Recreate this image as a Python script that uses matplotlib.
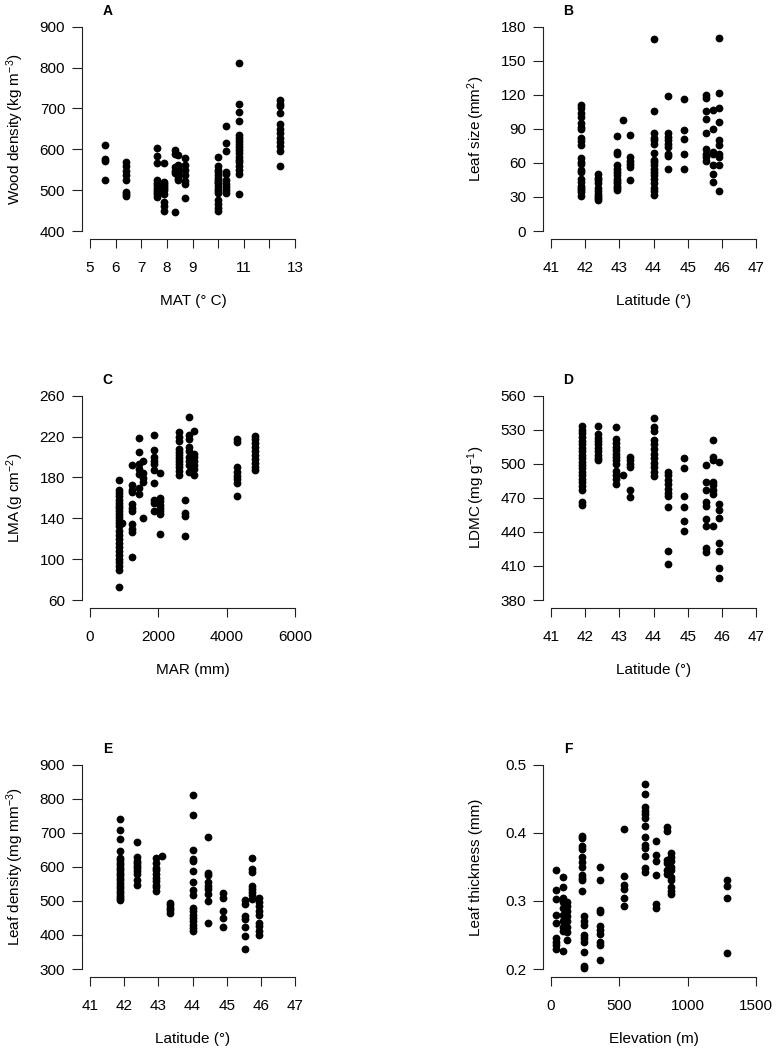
import numpy as np
import matplotlib
matplotlib.use("Agg")
import matplotlib.pyplot as plt

plt.rcParams['font.family'] = ['Liberation Sans', 'DejaVu Sans']
plt.rcParams['mathtext.fontset'] = 'custom'
plt.rcParams['mathtext.rm'] = 'Liberation Sans'
plt.rcParams['mathtext.it'] = 'Liberation Sans:italic'
plt.rcParams['mathtext.bf'] = 'Liberation Sans:bold'

# ---------------- data ----------------
a_x = [5.6, 6.4, 7.6, 7.9, 8.3, 8.45, 8.7, 10.0, 10.3, 10.8, 12.4]
a_y = [
    [611, 577, 571, 525],
    [570, 560, 548, 538, 525, 496, 490, 486],
    [602, 584, 567, 526, 518, 512, 506, 500, 496, 490, 484],
    [567, 521, 515, 510, 505, 500, 490, 472, 461, 449],
    [598, 588, 556, 548, 541, 447],
    [586, 562, 553, 546, 539, 530, 526],
    [578, 562, 550, 537, 523, 514, 482],
    [582, 558, 550, 545, 537, 530, 526, 520, 517, 510, 504, 498, 492, 476, 465, 456, 448],
    [658, 615, 596, 545, 540, 525, 515, 508, 500, 492],
    [812, 710, 692, 670, 636, 628, 620, 612, 605, 598, 592, 582, 575, 568, 560, 549, 540, 491],
    [720, 712, 706, 690, 662, 650, 640, 628, 618, 608, 596, 560],
]

b_x = [41.88, 42.37, 42.93, 43.1, 43.3, 44.0, 44.42, 44.88, 45.53, 45.74, 45.92]
b_y = [
    [111, 108, 104, 100, 95, 92, 90, 82, 79, 76, 64, 61, 59, 54, 52, 46, 43, 40, 38, 36, 34, 31],
    [50, 47, 45, 42, 38, 35, 33, 31, 29, 27],
    [84, 70, 68, 58, 55, 52, 49, 46, 44, 42, 40, 38, 36],
    [98],
    [85, 65, 62, 59, 56, 45],
    [169, 106, 86, 82, 80, 77, 69, 63, 61, 58, 55, 52, 49, 46, 42, 38, 35, 32],
    [119, 86, 83, 80, 77, 74, 68, 66, 55],
    [116, 89, 81, 68, 55],
    [120, 117, 106, 99, 86, 72, 68, 65, 62],
    [107, 90, 70, 68, 58, 50, 43],
    [170, 122, 108, 96, 80, 76, 68, 65, 58, 35],
]

c_x = [860, 940, 1230, 1420, 1560, 1870, 2060, 2600, 2780, 2890, 3040, 4310, 4830]
c_y = [
    [177, 168, 165, 162, 158, 155, 152, 150, 147, 144, 141, 138, 135, 132, 128, 124,
     120, 116, 112, 108, 104, 100, 97, 93, 89, 73],
    [135],
    [192, 173, 168, 166, 154, 150, 147, 134, 130, 127, 102],
    [219, 205, 193, 188, 183, 170, 164],
    [196, 184, 179, 176, 140],
    [222, 207, 200, 196, 193, 187, 175, 158, 155, 147],
    [184, 160, 157, 153, 150, 147, 144, 125],
    [224, 220, 216, 208, 205, 202, 199, 196, 193, 190, 186, 182],
    [158, 145, 142, 123],
    [239, 222, 218, 210, 206, 200, 196, 192, 185],
    [225, 203, 200, 196, 192, 188, 182],
    [218, 215, 190, 185, 181, 178, 175, 162],
    [221, 218, 214, 210, 206, 202, 198, 194, 190, 187],
]

d_x = [41.9, 42.38, 42.9, 43.1, 43.31, 44.02, 44.43, 44.88, 45.54, 45.73, 45.93]
d_y = [
    [533, 530, 527, 524, 520, 517, 514, 511, 508, 505, 502, 499, 496, 493, 490, 487,
     484, 480, 477, 466, 464],
    [533, 526, 523, 520, 517, 514, 511, 508, 505, 503],
    [532, 522, 518, 515, 512, 509, 506, 503, 500, 494, 490, 487, 482],
    [490],
    [506, 503, 500, 497, 477, 471],
    [540, 532, 529, 521, 517, 513, 509, 505, 501, 497, 493, 489],
    [493, 490, 486, 482, 478, 474, 472, 462, 423, 412],
    [505, 496, 472, 462, 450, 441],
    [499, 484, 477, 466, 463, 451, 445, 426, 422],
    [521, 506, 503, 484, 481, 477, 473, 445],
    [502, 465, 459, 452, 430, 423, 408, 399],
]

e_x = [41.89, 42.38, 42.92, 43.11, 43.33, 44.02, 44.44, 44.88, 45.55, 45.73, 45.94]
e_y = [
    [740, 708, 682, 647, 625, 620, 612, 605, 598, 590, 582, 575, 568, 560, 552, 545,
     538, 530, 522, 515, 508, 503],
    [672, 628, 618, 610, 603, 596, 588, 580, 562, 548],
    [625, 610, 598, 590, 580, 567, 557, 548, 540, 528],
    [633],
    [495, 487, 480, 472, 465],
    [811, 752, 650, 622, 618, 588, 556, 531, 517, 480, 470, 460, 450, 440, 430, 420, 413],
    [687, 582, 575, 555, 545, 535, 520, 500, 436],
    [524, 508, 470, 450, 424],
    [503, 490, 455, 447, 423, 398, 360],
    [625, 595, 585, 545, 535, 525, 518, 505],
    [510, 498, 485, 470, 458, 435, 425, 413, 400],
]

f_x = [37, 86, 115, 225, 240, 359, 535, 691, 765, 848, 880, 1288]
f_y = [
    [0.345, 0.316, 0.303, 0.28, 0.268, 0.246, 0.24, 0.235, 0.23],
    [0.335, 0.32, 0.305, 0.298, 0.29, 0.28, 0.27, 0.262, 0.256, 0.226],
    [0.298, 0.292, 0.285, 0.278, 0.27, 0.262, 0.255, 0.243],
    [0.396, 0.393, 0.38, 0.376, 0.365, 0.357, 0.35, 0.338, 0.334, 0.33, 0.315],
    [0.278, 0.27, 0.265, 0.25, 0.245, 0.24, 0.225, 0.205, 0.202],
    [0.35, 0.331, 0.286, 0.283, 0.263, 0.258, 0.252, 0.24, 0.236, 0.213],
    [0.406, 0.337, 0.324, 0.318, 0.305, 0.292],
    [0.472, 0.457, 0.438, 0.432, 0.427, 0.422, 0.41, 0.394, 0.382, 0.378, 0.366, 0.348, 0.343],
    [0.388, 0.368, 0.358, 0.338, 0.295, 0.29],
    [0.408, 0.402, 0.36, 0.355, 0.345, 0.34],
    [0.37, 0.364, 0.358, 0.35, 0.345, 0.335, 0.33, 0.32, 0.315, 0.31],
    [0.331, 0.322, 0.305, 0.224],
]

a_xticks = [5, 6, 7, 8, 9, 10, 11, 12, 13]
a_xticklabels = ['5', '6', '7', '8', '9', '', '11', '', '13']
a_yticks = [400, 500, 600, 700, 800, 900]
lat_ticks = [41, 42, 43, 44, 45, 46, 47]
b_yticks = [0, 30, 60, 90, 120, 150, 180]
c_xticks = [0, 2000, 4000, 6000]
c_yticks = [60, 100, 140, 180, 220, 260]
d_yticks = [380, 410, 440, 470, 500, 530, 560]
e_yticks = [300, 400, 500, 600, 700, 800, 900]
f_xticks = [0, 500, 1000, 1500]
f_yticks = [0.2, 0.3, 0.4, 0.5]
f_yticklabels = ['0.2', '0.3', '0.4', '0.5']

# ---------------- layout ----------------
W, H = 776, 1052
fig = plt.figure(figsize=(W / 100, H / 100), dpi=100)

col_left = [81.8, 542.8]
col_w = 221.4
row_top = [18.5, 387.5, 756.5]
row_h = 220.7

FS = 11


def make_ax(col, row):
    l = col_left[col] / W
    b = 1 - (row_top[row] + row_h) / H
    return fig.add_axes([l, b, col_w / W, row_h / H])


def expand(xs, ys):
    xx = np.concatenate([np.full(len(v), x, dtype=float) for x, v in zip(xs, ys)])
    yy = np.concatenate([np.asarray(v, dtype=float) for v in ys])
    return xx, yy


def panel(col, row, xs, ys, xticks, yticks, letter, xlabel, ylabel,
          xticklabels=None, yticklabels=None):
    ax = make_ax(col, row)
    xx, yy = expand(xs, ys)
    ax.plot(xx, yy, 'o', color='black', markersize=5.6, markeredgewidth=0)
    x0, x1 = xticks[0], xticks[-1]
    y0, y1 = yticks[0], yticks[-1]
    dx = (x1 - x0) * 0.04
    dy = (y1 - y0) * 0.04
    ax.set_xlim(x0 - dx, x1 + dx)
    ax.set_ylim(y0 - dy, y1 + dy)
    for s in ['top', 'right']:
        ax.spines[s].set_visible(False)
    ax.spines['left'].set_bounds(y0, y1)
    ax.spines['bottom'].set_bounds(x0, x1)
    for s in ['left', 'bottom']:
        ax.spines[s].set_linewidth(0.8)
        ax.spines[s].set_color('#222222')
    ax.set_xticks(xticks)
    ax.set_yticks(yticks)
    if xticklabels is not None:
        ax.set_xticklabels(xticklabels)
    else:
        ax.set_xticklabels([str(t) for t in xticks])
    if yticklabels is not None:
        ax.set_yticklabels(yticklabels)
    else:
        ax.set_yticklabels([str(t) for t in yticks])
    ax.tick_params(axis='x', direction='out', length=6.5, width=0.8,
                   color='#222222', labelsize=FS, pad=9)
    ax.tick_params(axis='y', direction='out', length=7, width=0.8,
                   color='#222222', labelsize=FS, pad=5)
    # panel letter
    lx = col_left[col] + 25.5
    ly = row_top[row] - 7.5
    fig.text(lx / W, 1 - ly / H, letter, fontsize=10, fontweight='bold',
             ha='center', va='center')
    # axis labels
    xcx = col_left[col] + col_w / 2 + 0.5
    xcy = row_top[row] + row_h + 62
    fig.text(xcx / W, 1 - xcy / H, xlabel, fontsize=FS, ha='center', va='center')
    ycx = col_left[col] - 66.5
    ycy = row_top[row] + row_h / 2
    fig.text(ycx / W, 1 - ycy / H, ylabel, fontsize=FS, ha='center', va='center',
             rotation=90)
    return ax


panel(0, 0, a_x, a_y, a_xticks, a_yticks, 'A', 'MAT (° C)',
      r'Wood density$\,$(kg m$^{-3}$)', xticklabels=a_xticklabels)
panel(1, 0, b_x, b_y, lat_ticks, b_yticks, 'B', 'Latitude (°)',
      r'Leaf size$\,$(mm$^{2}$)')
panel(0, 1, c_x, c_y, c_xticks, c_yticks, 'C', 'MAR (mm)',
      r'LMA$\,$(g cm$^{-2}$)')
panel(1, 1, d_x, d_y, lat_ticks, d_yticks, 'D', 'Latitude (°)',
      r'LDMC$\,$(mg g$^{-1}$)')
panel(0, 2, e_x, e_y, lat_ticks, e_yticks, 'E', 'Latitude (°)',
      r'Leaf density$\,$(mg mm$^{-3}$)')
panel(1, 2, f_x, f_y, f_xticks, f_yticks, 'F', 'Elevation (m)',
      'Leaf thickness (mm)', yticklabels=f_yticklabels)

fig.savefig('out.png', dpi=100, facecolor='white')
